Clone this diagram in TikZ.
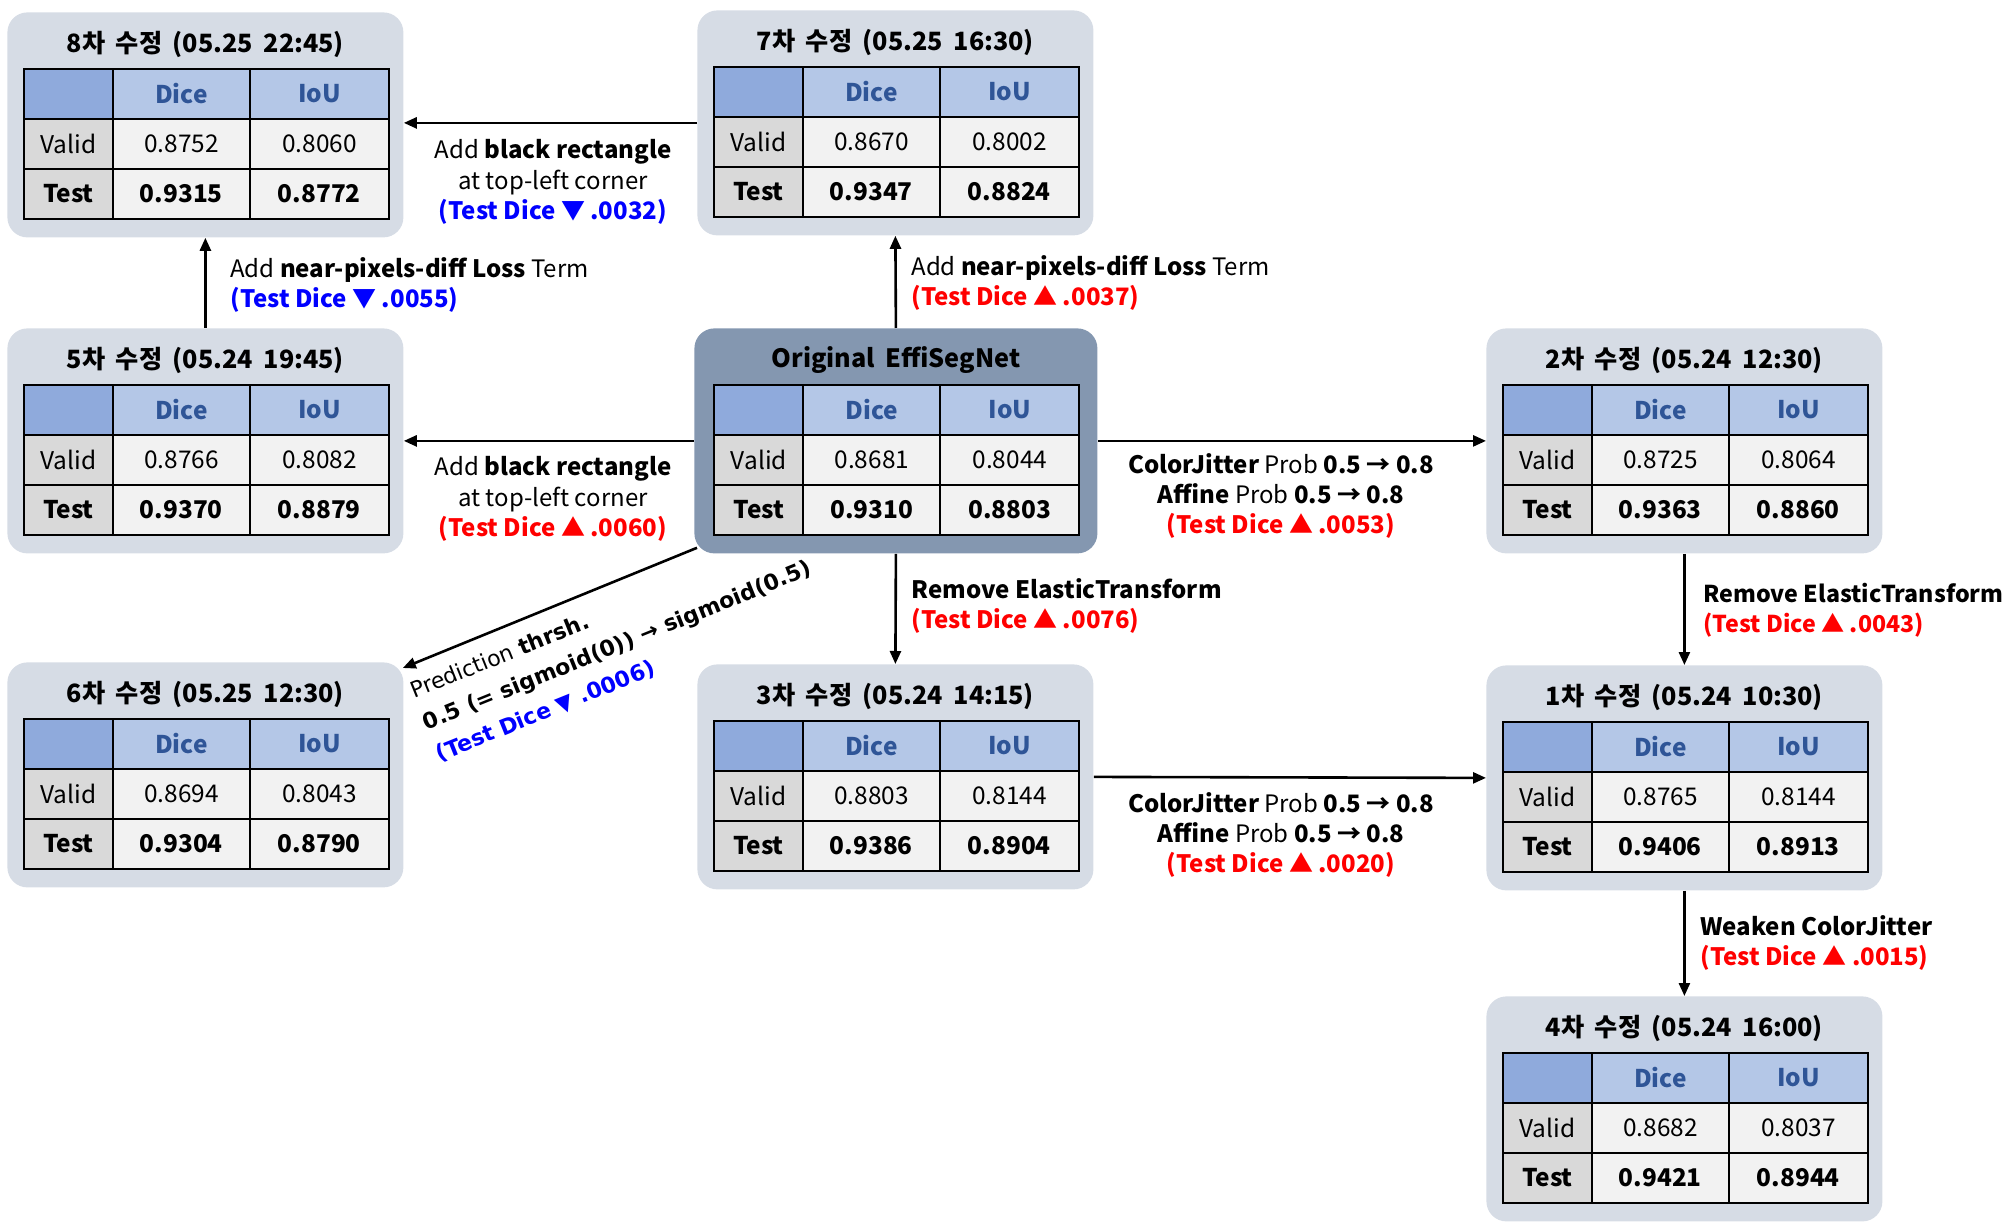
\documentclass[tikz,border=0pt]{standalone}
\usepackage{fontspec}
\setmainfont{Noto Sans CJK KR}
\newfontfamily\diagfont{DejaVu Sans}
\usetikzlibrary{calc,arrows.meta}

\definecolor{boxfill}{HTML}{D6DCE5}
\definecolor{origfill}{HTML}{8497B0}
\definecolor{cornerfill}{HTML}{8FAADC}
\definecolor{headfill}{HTML}{B4C7E7}
\definecolor{headtext}{HTML}{2F5597}
\definecolor{rowfill}{HTML}{D9D9D9}
\definecolor{numfill}{HTML}{F2F2F2}
\definecolor{upred}{HTML}{FF0000}
\definecolor{downblue}{HTML}{0000FF}

\newcommand\cellfont{\fontsize{12.2}{14}\selectfont}
\newcommand\boxtitlefont{\fontsize{12.6}{15}\selectfont\bfseries\spaceskip=0.42em\relax}

\tikzset{
  resbox/.style={rounded corners=10pt, fill=boxfill, draw=none,
    minimum width=198pt, minimum height=112.5pt, inner sep=0pt},
  origbox/.style={resbox, fill=origfill, minimum width=201.5pt},
  titletext/.style={font=\boxtitlefont, inner sep=0pt},
  cell/.style={draw=black, line width=1pt, minimum height=25pt, inner sep=0pt,
    anchor=north west, font=\cellfont},
  cornercell/.style={cell, fill=cornerfill, minimum width=44.5pt},
  headcell/.style={cell, fill=headfill, text=headtext, font=\cellfont\bfseries},
  rowcell/.style={cell, fill=rowfill, minimum width=44.5pt},
  numcell/.style={cell, fill=numfill},
  colA/.style={minimum width=68.5pt},
  colB/.style={minimum width=69.5pt},
  arr/.style={-{Triangle[length=6.5pt,width=5.5pt]}, line width=1.3pt},
  lbl/.style={inner sep=0pt, font=\fontsize{12}{15.2}\selectfont},
}

% #1 name, #2 x, #3 y (top-left), #4 title,
% #5 valid dice, #6 valid iou, #7 test dice, #8 test iou, #9 box style
\newcommand\resultbox[9]{%
  \node[#9, anchor=north west] (#1) at (#2,#3) {};
  \node[titletext] (#1-t) at ($(#1.north)+(0,32)$) {#4};
  \coordinate (#1-o) at ($(#1.north)+(-182.5,56)$);
  \node[cornercell] (#1-c00) at (#1-o) {};
  \node[headcell, colA] (#1-c01) at ($(#1-o)+(89,0)$) {Dice};
  \node[headcell, colB] (#1-c02) at ($(#1-o)+(226,0)$) {IoU};
  \node[rowcell] (#1-c10) at ($(#1-o)+(0,50)$) {Valid};
  \node[numcell, colA] (#1-c11) at ($(#1-o)+(89,50)$) {#5};
  \node[numcell, colB] (#1-c12) at ($(#1-o)+(226,50)$) {#6};
  \node[rowcell, font=\cellfont\bfseries] (#1-c20) at ($(#1-o)+(0,100)$) {Test};
  \node[numcell, colA, font=\cellfont\bfseries] (#1-c21) at ($(#1-o)+(89,100)$) {#7};
  \node[numcell, colB, font=\cellfont\bfseries] (#1-c22) at ($(#1-o)+(226,100)$) {#8};
}

\begin{document}
\begin{tikzpicture}[x=0.5pt, y=-0.5pt]
\useasboundingbox (0,0) rectangle (2012,1229);

% result boxes
\resultbox{r8}{7}{12}{8차 수정 (05.25 22:45)}{0.8752}{0.8060}{0.9315}{0.8772}{resbox}
\resultbox{r7}{697}{10}{7차 수정 (05.25 16:30)}{0.8670}{0.8002}{0.9347}{0.8824}{resbox}
\resultbox{r5}{7}{328}{5차 수정 (05.24 19:45)}{0.8766}{0.8082}{0.9370}{0.8879}{resbox}
\resultbox{orig}{694}{328}{Original EffiSegNet}{0.8681}{0.8044}{0.9310}{0.8803}{origbox}
\resultbox{r2}{1486}{328}{2차 수정 (05.24 12:30)}{0.8725}{0.8064}{0.9363}{0.8860}{resbox}
\resultbox{r6}{7}{662}{6차 수정 (05.25 12:30)}{0.8694}{0.8043}{0.9304}{0.8790}{resbox}
\resultbox{r3}{697}{664}{3차 수정 (05.24 14:15)}{0.8803}{0.8144}{0.9386}{0.8904}{resbox}
\resultbox{r1}{1486}{665}{1차 수정 (05.24 10:30)}{0.8765}{0.8144}{0.9406}{0.8913}{resbox}
\resultbox{r4}{1486}{996}{4차 수정 (05.24 16:00)}{0.8682}{0.8037}{0.9421}{0.8944}{resbox}

% connectors
\draw[arr] (orig.north) -- (r7.south);
\draw[arr] (r7.west) -- (r7.west -| r8.east);
\draw[arr] (r5.north) -- (r8.south);
\draw[arr] (orig.west) -- (orig.west -| r5.east);
\draw[arr] (orig.east) -- (orig.east -| r2.west);
\draw[arr] (orig.south) -- (r3.north);
\draw[arr] ($(orig.south west)+(3,-6)$) -- ($(r6.north east)+(-1,6)$);
\draw[arr] (r3.east) -- (r1.west);
\draw[arr] (r2.south) -- (r1.north);
\draw[arr] (r1.south) -- (r4.north);

% connector labels
\node[lbl, align=center] (l78) at (553,182)
  {Add \textbf{black rectangle}\\at top-left corner\\
   \textcolor{downblue}{\textbf{(Test Dice ▼ .0032)}}};
\node[lbl, align=left, anchor=west] (l58) at (230,285)
  {Add \textbf{near-pixels-diff Loss} Term\\
   \textcolor{downblue}{\textbf{(Test Dice ▼ .0055)}}};
\node[lbl, align=left, anchor=west] (l07) at (911,283)
  {Add \textbf{near-pixels-diff Loss} Term\\
   \textcolor{upred}{\textbf{(Test Dice ▲ .0037)}}};
\node[lbl, align=center] (l05) at (553,499)
  {Add \textbf{black rectangle}\\at top-left corner\\
   \textcolor{upred}{\textbf{(Test Dice ▲ .0060)}}};
\node[lbl, align=center] (l02) at (1281,496)
  {\textbf{ColorJitter} Prob \textbf{0.5 → 0.8}\\
   \textbf{Affine} Prob \textbf{0.5 → 0.8}\\
   \textcolor{upred}{\textbf{(Test Dice ▲ .0053)}}};
\node[lbl, align=left, anchor=west] (l03) at (911,606)
  {\textbf{Remove ElasticTransform}\\
   \textcolor{upred}{\textbf{(Test Dice ▲ .0076)}}};
\node[lbl, align=center] (l31) at (1281,835)
  {\textbf{ColorJitter} Prob \textbf{0.5 → 0.8}\\
   \textbf{Affine} Prob \textbf{0.5 → 0.8}\\
   \textcolor{upred}{\textbf{(Test Dice ▲ .0020)}}};
\node[lbl, align=left, anchor=west, font=\fontsize{11.6}{15.2}\selectfont] (l21) at (1703,610)
  {\textbf{Remove ElasticTransform}\\
   \textcolor{upred}{\textbf{(Test Dice ▲ .0043)}}};
\node[lbl, align=left, anchor=west] (l14) at (1700,943)
  {\textbf{Weaken ColorJitter}\\
   \textcolor{upred}{\textbf{(Test Dice ▲ .0015)}}};
\node[lbl, align=left, anchor=west, rotate=22,
      font=\diagfont\fontsize{11}{17}\selectfont] (l06) at (424,724)
  {Prediction \textbf{thrsh.}\\
   \textbf{0.5 (= sigmoid(0)) → sigmoid(0.5)}\\
   \textcolor{downblue}{\textbf{(Test Dice ▼ .0006)}}};
\end{tikzpicture}
\end{document}
